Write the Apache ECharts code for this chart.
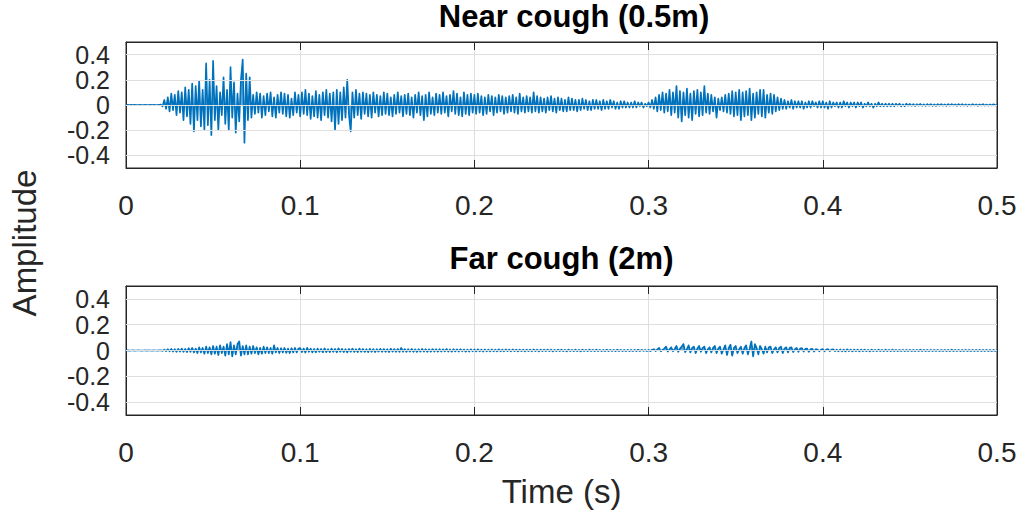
<!DOCTYPE html>
<html>
<head>
<meta charset="utf-8">
<script src="https://cdn.jsdelivr.net/npm/echarts@6/dist/echarts.min.js"></script>
<style>html,body{margin:0;padding:0;background:#fff}#c{width:1021px;height:519px}</style>
</head>
<body>
<div id="c"></div>
<script>
// sample period (s)
var dt = 0.001;
var xTicks = [0, 0.1, 0.2, 0.3, 0.4, 0.5];
var yTicks = [-0.4, -0.2, 0, 0.2, 0.4];
var yLabelsA = [-0.4, 0, 0.4];
var yLabelsB = [-0.2, 0.2];
var titles = ['Near cough (0.5m)', 'Far cough (2m)'];

// Near cough amplitude, one value per ms (0 .. 0.5 s)
var near = [
0,0.001,-0.001,0.001,0,0.001,-0.001,0,0.001,0,
0,0.001,-0.001,0,0.001,-0.001,0.001,0,-0.001,0.002,
0.003,-0.01,0.04,-0.03,0.06,-0.05,0.09,-0.04,0.08,-0.08,
0.11,-0.06,0.1,-0.12,0.14,-0.09,0.12,-0.15,0.17,-0.21,
0.15,-0.12,0.19,-0.17,0.12,-0.2,0.33,-0.16,0.2,-0.24,
0.35,-0.12,0.15,-0.2,0.1,-0.08,0.22,-0.15,0.12,-0.2,
0.3,-0.1,0.18,-0.22,0.09,-0.13,0.2,0.36,-0.3,0.25,
-0.12,0.22,-0.1,0.08,-0.07,0.1,-0.06,0.09,-0.1,0.07,
-0.08,0.09,-0.05,0.1,-0.09,0.06,-0.1,0.08,-0.06,0.1,
-0.07,0.09,-0.09,0.08,-0.1,0.05,-0.08,0.1,-0.06,0.08,
-0.09,0.1,-0.07,0.12,-0.08,0.09,-0.11,0.07,-0.09,0.11,
-0.1,0.08,-0.12,0.1,-0.08,0.12,-0.1,0.09,-0.13,0.1,
-0.2,0.12,-0.15,0.1,-0.12,0.14,-0.1,0.2,-0.08,-0.21,
0.1,-0.1,0.12,-0.08,0.09,-0.11,0.1,-0.07,0.09,-0.09,
0.08,-0.1,0.1,-0.06,0.08,-0.09,0.07,-0.08,0.1,-0.07,
0.09,-0.08,0.06,-0.09,0.08,-0.07,0.1,-0.06,0.07,-0.09,
0.08,-0.07,0.09,-0.08,0.06,-0.1,0.08,-0.06,0.1,-0.08,
0.07,-0.12,0.08,-0.09,0.1,-0.07,0.06,-0.08,0.09,-0.06,
0.08,-0.07,0.1,-0.06,0.07,-0.09,0.08,-0.05,0.11,-0.07,
0.09,-0.08,0.06,-0.09,0.1,-0.07,0.08,-0.08,0.09,-0.06,
0.08,-0.07,0.09,-0.06,0.07,-0.08,0.06,-0.07,0.08,-0.05,
0.07,-0.08,0.06,-0.06,0.08,-0.05,0.07,-0.07,0.06,-0.06,
0.07,-0.05,0.08,-0.06,0.06,-0.07,0.09,-0.05,0.06,-0.06,
0.07,-0.05,0.06,-0.06,0.1,-0.05,0.07,-0.06,0.06,-0.05,
0.05,-0.06,0.06,-0.04,0.07,-0.05,0.05,-0.06,0.06,-0.04,
0.05,-0.05,0.04,-0.05,0.06,-0.04,0.05,-0.04,0.04,-0.05,
0.04,-0.04,0.05,-0.03,0.04,-0.04,0.03,-0.04,0.04,-0.03,
0.04,-0.03,0.03,-0.04,0.04,-0.03,0.03,-0.03,0.04,-0.02,
0.03,-0.03,0.02,-0.03,0.03,-0.02,0.03,-0.02,0.02,-0.02,
0.02,-0.02,0.03,-0.02,0.02,-0.01,0.02,-0.02,0.01,-0.01,
0.02,-0.02,0.04,-0.03,0.06,-0.05,0.08,-0.04,0.1,-0.06,
0.09,-0.05,0.12,-0.08,0.1,-0.06,0.15,-0.1,0.11,-0.13,
0.1,-0.08,0.13,-0.1,0.09,-0.12,0.11,-0.07,0.12,-0.09,
0.1,-0.08,0.15,-0.06,0.09,-0.07,0.08,-0.05,0.06,-0.1,
0.05,-0.04,0.06,-0.05,0.08,-0.06,0.09,-0.07,0.11,-0.09,
0.1,-0.08,0.12,-0.12,0.1,-0.09,0.11,-0.08,0.13,-0.12,
0.09,-0.1,0.1,-0.07,0.12,-0.09,0.12,-0.1,0.08,-0.06,
0.09,-0.07,0.08,-0.05,0.06,-0.04,0.05,-0.03,0.04,-0.03,
0.03,-0.02,0.04,-0.03,0.03,-0.02,0.03,-0.02,0.03,-0.03,
0.02,-0.02,0.03,-0.02,0.03,-0.01,0.02,-0.02,0.03,-0.02,
0.03,-0.02,0.02,-0.03,0.03,-0.02,0.02,-0.01,0.02,-0.02,
0.02,-0.02,0.03,-0.01,0.02,-0.02,0.02,-0.01,0.02,-0.02,
0.02,-0.01,0.02,-0.02,0.01,-0.01,0.02,-0.01,0.01,-0.02,
0.01,-0.01,0.02,-0.01,0.01,-0.01,0.01,-0.01,0.01,-0.01,
0.01,-0.01,0.01,-0.005,0.01,-0.01,0.005,-0.01,0.01,-0.005,
0.008,-0.006,0.007,-0.008,0.006,-0.005,0.008,-0.006,0.005,-0.007,
0.006,-0.005,0.007,-0.006,0.005,-0.006,0.006,-0.004,0.007,-0.005,
0.005,-0.006,0.006,-0.005,0.007,-0.004,0.005,-0.006,0.006,-0.005,
0.006,-0.005,0.005,-0.006,0.004,-0.005,0.006,-0.004,0.005,-0.006,
0.005,-0.004,0.006,-0.005,0.004,-0.005,0.005,-0.004,0.006,-0.004,
0.003
];

// Far cough amplitude, one value per ms (0 .. 0.5 s)
var far = [
0,0.001,-0.001,0,0.001,-0.001,0,0.001,0,-0.001,
0,0.001,-0.001,0.001,0,-0.001,0.001,0,-0.001,0.001,
0.002,-0.003,0.006,-0.005,0.01,-0.006,0.012,-0.008,0.01,-0.01,
0.012,-0.008,0.015,-0.01,0.012,-0.012,0.018,-0.01,0.02,-0.015,
0.015,-0.02,0.025,-0.015,0.02,-0.025,0.03,-0.02,0.025,-0.03,
0.035,-0.025,0.03,-0.035,0.04,-0.02,0.03,-0.04,0.05,-0.03,
0.065,-0.045,0.04,-0.03,0.05,0.07,-0.04,0.035,-0.03,0.04,
-0.03,0.03,-0.025,0.035,-0.02,0.025,-0.03,0.02,-0.025,0.03,
-0.02,0.025,-0.02,0.02,-0.025,0.04,-0.015,0.02,-0.02,0.018,
-0.015,0.02,-0.018,0.015,-0.02,0.018,-0.015,0.02,-0.015,0.015,
0.018,-0.012,0.015,-0.016,0.02,-0.01,0.014,-0.015,0.012,-0.014,
0.015,-0.01,0.012,-0.014,0.016,-0.012,0.01,-0.013,0.015,-0.01,
0.012,-0.014,0.016,-0.01,0.013,-0.012,0.01,-0.015,0.012,-0.01,
0.014,-0.011,0.01,-0.012,0.015,-0.01,0.012,-0.011,0.01,-0.012,
0.013,-0.01,0.011,-0.012,0.01,-0.009,0.013,-0.01,0.011,-0.01,
0.01,-0.012,0.014,-0.009,0.011,-0.01,0.012,-0.011,0.02,-0.009,
0.011,-0.01,0.01,-0.009,0.012,-0.01,0.009,-0.011,0.01,-0.009,
0.012,-0.008,0.01,-0.01,0.009,-0.009,0.011,-0.008,0.01,-0.009,
0.01,-0.008,0.009,-0.007,0.012,-0.008,0.008,-0.009,0.01,-0.007,
0.009,-0.008,0.01,-0.006,0.008,-0.009,0.007,-0.008,0.009,-0.006,
0.008,-0.007,0.009,-0.006,0.007,-0.008,0.008,-0.006,0.007,-0.007,
0.008,-0.006,0.007,-0.007,0.009,-0.006,0.007,-0.006,0.008,-0.005,
0.007,-0.006,0.008,-0.005,0.006,-0.007,0.007,-0.005,0.006,-0.006,
0.007,-0.005,0.006,-0.006,0.008,-0.005,0.006,-0.006,0.007,-0.005,
0.006,-0.005,0.007,-0.005,0.006,-0.006,0.005,-0.005,0.006,-0.004,
0.006,-0.005,0.005,-0.006,0.007,-0.004,0.005,-0.005,0.006,-0.005,
0.005,-0.006,0.006,-0.004,0.005,-0.005,0.006,-0.004,0.005,-0.005,
0.006,-0.004,0.005,-0.005,0.004,-0.005,0.006,-0.004,0.005,-0.004,
0.005,-0.005,0.006,-0.004,0.005,-0.004,0.004,-0.005,0.005,-0.004,
0.004,-0.005,0.005,-0.004,0.006,-0.004,0.005,-0.003,0.004,-0.005,
0.004,-0.004,0.006,0.01,-0.004,0.008,0.02,-0.006,0.005,0.015,
0.03,-0.008,0.01,0.025,-0.006,0.012,0.035,-0.01,0.015,0.03,
0.05,-0.012,0.01,0.04,-0.015,0.02,0.03,-0.02,0.015,0.035,
-0.01,0.02,0.03,-0.02,0.01,0.025,-0.015,0.02,0.035,-0.02,
0.015,0.03,-0.025,0.01,0.04,-0.035,0.02,0.045,-0.04,0.02,
0.035,-0.02,0.01,0.03,-0.025,0.02,0.04,-0.03,0.015,0.07,
-0.045,0.05,0.02,-0.03,0.035,0.01,-0.025,0.03,-0.015,0.025,
0.03,-0.02,0.01,0.025,-0.015,0.02,0.03,-0.02,0.015,0.025,
-0.015,0.02,0.025,-0.012,0.01,0.02,-0.01,0.015,0.018,-0.008,
0.012,0.015,-0.01,0.01,0.012,-0.008,0.01,0.008,-0.006,0.008,
0.01,-0.006,0.008,0.01,-0.005,0.007,0.008,-0.005,0.006,-0.006,
0.008,-0.006,0.007,-0.007,0.009,-0.005,0.006,-0.006,0.007,-0.005,
0.006,-0.006,0.007,-0.005,0.006,-0.005,0.005,-0.006,0.006,-0.004,
0.005,-0.005,0.006,-0.004,0.005,-0.005,0.006,-0.004,0.005,-0.005,
0.006,-0.004,0.005,-0.005,0.004,-0.004,0.005,-0.005,0.004,-0.004,
0.005,-0.004,0.004,-0.005,0.005,-0.004,0.006,-0.004,0.005,-0.004,
0.004,-0.005,0.005,-0.004,0.004,-0.004,0.005,-0.005,0.004,-0.004,
0.005,-0.004,0.004,-0.005,0.006,-0.004,0.004,-0.004,0.005,-0.005,
0.004,-0.004,0.005,-0.004,0.004,-0.005,0.005,-0.004,0.004,-0.004,
0.005,-0.004,0.004,-0.004,0.005,-0.004,0.004,-0.005,0.004,-0.004,
0.003
];

function pairs(arr){ return arr.map(function(v,i){ return [i*dt, v]; }); }

var FONT = '"Liberation Sans", Arial, Helvetica, sans-serif';
var AX = '#262626';
var GRIDC = '#dfdfdf';
var LINEC = '#0072BD';

function fmt(v){ var r = Math.round(v*10)/10; return r === 0 ? '0' : String(r); }

var grids = [
  {left:126, top:42, width:871, height:126, show:true, borderColor:AX, borderWidth:1, backgroundColor:'#fff'},
  {left:126, top:286, width:871, height:129, show:true, borderColor:AX, borderWidth:1, backgroundColor:'#fff'}
];

var xAxes = [], yAxes = [];
[0,1].forEach(function(g){
  xAxes.push({
    type:'value', gridIndex:g, min:0, max:0.5, interval:0.1, position:'bottom',
    axisLine:{show:true, onZero:false, lineStyle:{color:AX, width:1}},
    axisTick:{show:true, inside:true, length:8, lineStyle:{color:AX}},
    axisLabel:{show:true, margin:25, fontFamily:FONT, fontSize:28, lineHeight:24, color:AX, formatter:fmt,
               hideOverlap:false, showMinLabel:true, showMaxLabel:true},
    splitLine:{show:true, lineStyle:{color:GRIDC, width:1}}
  });
  xAxes.push({
    type:'value', gridIndex:g, min:0, max:0.5, interval:0.1, position:'top',
    axisLine:{show:true, onZero:false, lineStyle:{color:AX, width:1}},
    axisTick:{show:true, inside:true, length:8, lineStyle:{color:AX}},
    axisLabel:{show:false}, splitLine:{show:false}
  });
  yAxes.push({
    type:'value', gridIndex:g, min:-0.5, max:0.5, position:'left',
    axisLine:{show:true, onZero:false, lineStyle:{color:AX, width:1}},
    axisTick:{show:true, inside:true, length:8, lineStyle:{color:AX}, customValues:yTicks},
    axisLabel:{show:true, interval:0, margin:16, fontFamily:FONT, fontSize:25, lineHeight:24, color:AX, formatter:fmt,
               customValues:yLabelsA, showMinLabel:true, showMaxLabel:true},
    splitLine:{show:false}
  });
  yAxes.push({
    type:'value', gridIndex:g, min:-0.5, max:0.5, position:'right',
    axisLine:{show:true, onZero:false, lineStyle:{color:AX, width:1}},
    axisTick:{show:true, inside:true, length:8, lineStyle:{color:AX}, customValues:yTicks},
    axisLabel:{show:false}, splitLine:{show:false}
  });
  yAxes.push({
    type:'value', gridIndex:g, min:-0.5, max:0.5, position:'left', offset:0,
    axisLine:{show:false}, axisTick:{show:false},
    axisLabel:{show:true, interval:0, margin:16, fontFamily:FONT, fontSize:25, lineHeight:24, color:AX, formatter:fmt,
               customValues:yLabelsB, showMinLabel:true, showMaxLabel:true},
    splitLine:{show:false}
  });
});

function gridLines(){
  return {
    silent:true, symbol:['none','none'], label:{show:false},
    lineStyle:{color:GRIDC, width:1, type:'solid'},
    data: yTicks.map(function(v){ return {yAxis:v}; })
  };
}

function wave(xi, yi, data){
  return {type:'line', xAxisIndex:xi, yAxisIndex:yi, data:pairs(data), showSymbol:false, sampling:null,
    lineStyle:{color:LINEC, width:1.7, join:'round'}, itemStyle:{color:LINEC},
    areaStyle:{color:LINEC, opacity:0.6, origin:0},
    markLine:gridLines(), z:3};
}

var option = {
  animation:false,
  backgroundColor:'#fff',
  grid:grids,
  xAxis:xAxes,
  yAxis:yAxes,
  series:[ wave(0, 0, near), wave(2, 3, far) ],
  graphic:[
    {type:'text', x:574, y:16, style:{text:titles[0], font:'bold 31px '+FONT, fill:'#000', textAlign:'center', textVerticalAlign:'middle'}},
    {type:'text', x:561.5, y:258, style:{text:titles[1], font:'bold 31px '+FONT, fill:'#000', textAlign:'center', textVerticalAlign:'middle'}},
    {type:'text', x:24, y:243, rotation:Math.PI/2, style:{text:'Amplitude', font:'33px '+FONT, fill:AX, textAlign:'center', textVerticalAlign:'middle'}},
    {type:'text', x:561.5, y:491, style:{text:'Time (s)', font:'33px '+FONT, fill:AX, textAlign:'center', textVerticalAlign:'middle'}}
  ]
};

var chart = echarts.init(document.getElementById('c'), null, {renderer:'svg'});
chart.setOption(option);
</script>
</body>
</html>
